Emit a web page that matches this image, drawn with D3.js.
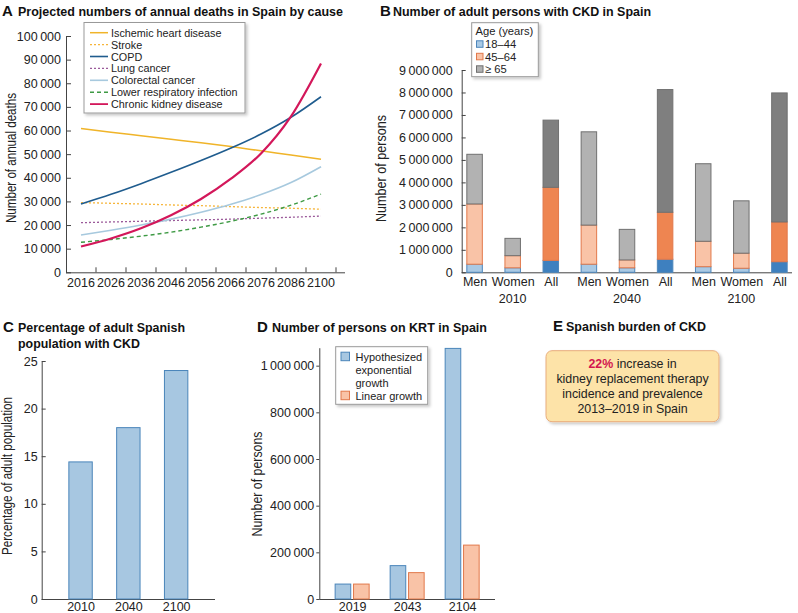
<!DOCTYPE html>
<html><head><meta charset="utf-8">
<script src="https://cdn.jsdelivr.net/npm/d3@7"></script>
<style>
body{margin:0;background:#fff}
svg{font-family:"Liberation Sans",Arial,Helvetica,sans-serif}
.axis path,.axis line{stroke:#444;stroke-width:1}
.axis text{fill:#222;font-size:12.5px}
</style>
</head><body>
<svg id="c" width="798" height="613"></svg>
<script>
// ---------- Panel A data ----------
const aYears = ["2016","2026","2036","2046","2056","2066","2076","2086","2100"];
const ischemic   = [60900,59300,57800,56300,54800,53200,51400,49600,47800];
const stroke     = [29500,29200,28900,28500,28200,27800,27400,27100,26700];
const copd       = [28900,33000,37500,42300,47300,52600,58500,65600,74300];
const lungCancer = [21000,21300,21600,21900,22200,22500,22900,23300,23800];
const colorectal = [15800,17800,20000,22500,25400,28800,32900,38000,44700];
const lowerResp  = [12700,13900,15300,17000,19100,21600,24600,28400,33100];
const ckdDeaths  = [10900,14300,18600,24100,31000,39600,50300,66000,88400];
const aSeriesNames = ["Ischemic heart disease","Stroke","COPD","Lung cancer","Colorectal cancer","Lower respiratory infection","Chronic kidney disease"];
const aTicks = [0,10000,20000,30000,40000,50000,60000,70000,80000,90000,100000];

// ---------- Panel B data ----------
const bGroups = ["Men","Women","All","Men","Women","All","Men","Women","All"];
const bYearOf = ["2010","2010","2010","2040","2040","2040","2100","2100","2100"];
const bYears = ["2010","2040","2100"];
const bAgeNames = ["18–44","45–64","≥ 65"];
const age18_44 = [360000,200000,530000,360000,200000,580000,250000,180000,470000];
const age45_64 = [2680000,540000,3250000,1740000,350000,2090000,1130000,670000,1770000];
const age65up  = [2210000,770000,2990000,4150000,1360000,5460000,3450000,2330000,5740000];
const bTicks = [0,1000000,2000000,3000000,4000000,5000000,6000000,7000000,8000000,9000000];

// ---------- Panel C data ----------
const cYears = ["2010","2040","2100"];
const cPct = [14.4,18.0,24.0];
const cTicks = [0,5,10,15,20,25];

// ---------- Panel D data ----------
const dYears = ["2019","2043","2104"];
const dExponential = [64000,143000,1074000];
const dLinear = [64000,113000,231000];
const dTicks = [0,200000,400000,600000,800000,1000000];
const dSeriesNames = ["Hypothesized\nexponential\ngrowth","Linear growth"];

const svg = d3.select("#c");
const fmt = v => d3.format(",")(v).replace(/,/g, "\u2009");

const defs = svg.append("defs");
const f = defs.append("filter").attr("id","sh").attr("x","-10%").attr("y","-10%").attr("width","130%").attr("height","140%");
f.append("feDropShadow").attr("dx",2).attr("dy",2).attr("stdDeviation",1.5).attr("flood-color","#000").attr("flood-opacity",0.22);

function title(lx, tx, y, letter, lines, lens){
  const g = svg.append("g");
  g.append("text").attr("x",lx).attr("y",y).attr("font-weight","bold").attr("font-size",15).attr("fill","#111").text(letter);
  lines.forEach((t,i)=>g.append("text").attr("x",tx).attr("y",y+i*16.5).attr("font-weight","bold").attr("font-size",13)
    .attr("textLength",lens[i]).attr("lengthAdjust","spacingAndGlyphs").attr("fill","#111").text(t));
}
function yTitle(x, y, t, len){
  svg.append("text").attr("transform",`translate(${x},${y}) rotate(-90)`).attr("text-anchor","middle")
    .attr("font-size",14).attr("textLength",len).attr("lengthAdjust","spacingAndGlyphs").attr("fill","#222").text(t);
}

// =================== PANEL A ===================
title(2,18,16,"A",["Projected numbers of annual deaths in Spain by cause"],[325]);
const yA = d3.scaleLinear().domain([0,100000]).range([272.3,36]);
const xA = d3.scaleBand().domain(aYears).range([66,336]);
svg.append("g").attr("class","axis").attr("transform","translate(66,0)")
  .call(d3.axisLeft(yA).tickValues(aTicks).tickFormat(fmt).tickSize(-5).tickSizeOuter(0).tickPadding(5));
const gxA = svg.append("g").attr("class","axis").attr("transform","translate(0,272.3)")
  .call(d3.axisBottom(xA).tickSize(0).tickPadding(6).tickSizeOuter(0));
gxA.selectAll(".tick text").attr("font-size",12.3);
gxA.select(".domain").attr("d","M66,0.5H345");
gxA.selectAll(".tickmark").data(aYears).join("line").attr("class","tickmark")
  .attr("x1",d=>xA(d)+xA.bandwidth()).attr("x2",d=>xA(d)+xA.bandwidth())
  .attr("y1",0).attr("y2",-5).attr("stroke","#444");
yTitle(16,158,"Number of annual deaths",130);

const aData = [ischemic,stroke,copd,lungCancer,colorectal,lowerResp,ckdDeaths];
const aStyle = [
  {c:"#f0b429",w:1.5,d:null},
  {c:"#f6b53a",w:1.3,d:"2,2"},
  {c:"#1f5c8e",w:1.6,d:null},
  {c:"#9b5a9a",w:1.3,d:"2,2"},
  {c:"#a7c9de",w:1.6,d:null},
  {c:"#3e9a44",w:1.4,d:"4,3"},
  {c:"#d3175a",w:2.2,d:null}
];
const lineA = d3.line().x((d,i)=>xA(aYears[i])+xA.bandwidth()/2).y(d=>yA(d)).curve(d3.curveMonotoneX);
aData.forEach((s,k)=>{
  svg.append("path").attr("d",lineA(s)).attr("fill","none").attr("stroke",aStyle[k].c)
    .attr("stroke-width",aStyle[k].w).attr("stroke-dasharray",aStyle[k].d);
});
const lgA = svg.append("g");
lgA.append("rect").attr("x",84).attr("y",22.5).attr("width",161).attr("height",90.5).attr("fill","#fff").attr("stroke","#999").attr("filter","url(#sh)");
aSeriesNames.forEach((n,i)=>{
  const y = 32.7 + i*11.9;
  lgA.append("line").attr("x1",90).attr("x2",108).attr("y1",y).attr("y2",y).attr("stroke",aStyle[i].c)
    .attr("stroke-width",Math.min(aStyle[i].w,1.8)).attr("stroke-dasharray",aStyle[i].d);
  lgA.append("text").attr("x",111).attr("y",y+4).attr("font-size",10.8).attr("fill","#222").text(n);
});

// =================== PANEL B ===================
title(380,393,16,"B",["Number of adult persons with CKD in Spain"],[258]);
const yB = d3.scaleLinear().domain([0,9000000]).range([272.3,70]);
const bIds = bGroups.map((g,i)=>g+" "+bYearOf[i]);
const xB = d3.scalePoint().domain(bIds).range([462,792]).padding(0.33);
svg.append("g").attr("class","axis").attr("transform","translate(461.7,0)")
  .call(d3.axisLeft(yB).tickValues(bTicks).tickFormat(fmt).tickSize(-4).tickSizeOuter(0).tickPadding(9));
const gxB = svg.append("g").attr("class","axis").attr("transform","translate(0,272.3)")
  .call(d3.axisBottom(xB).tickSize(0).tickPadding(5).tickSizeOuter(0).tickFormat((d,i)=>bGroups[i]));
gxB.select(".domain").attr("d","M461.7,0.5H792");
bYears.forEach(y=>{
  svg.append("text").attr("x",xB("Women "+y)).attr("y",303).attr("text-anchor","middle").attr("font-size",12.5).attr("fill","#222").text(y);
});
yTitle(386,168.5,"Number of persons",107);

const bRows = bIds.map((id,i)=>({id, group:bGroups[i], a:age18_44[i], b:age45_64[i], c:age65up[i]}));
const stackB = d3.stack().keys(["a","b","c"])(bRows);
const bLight = {a:"#a9c9e4", b:"#f9c3a7", c:"#b2b2b2"};
const bDark  = {a:"#3e80bf", b:"#ee8551", c:"#7f7f7f"};
const bStroke= {a:"#4d86bb", b:"#e2794b", c:"#707070"};
const bw = 15.5;
stackB.forEach(layer=>{
  svg.append("g").selectAll("rect").data(layer).join("rect")
    .attr("x",d=>xB(d.data.id)-bw/2).attr("width",bw)
    .attr("y",d=>yB(d[1])).attr("height",d=>yB(d[0])-yB(d[1]))
    .attr("fill",d=>d.data.group==="All"?bDark[layer.key]:bLight[layer.key])
    .attr("stroke",bStroke[layer.key]).attr("stroke-width",1);
});
const lgB = svg.append("g");
lgB.append("rect").attr("x",471.7).attr("y",22.7).attr("width",66.6).attr("height",54).attr("fill","#fff").attr("stroke","#999").attr("filter","url(#sh)");
lgB.append("text").attr("x",475.5).attr("y",34.5).attr("font-size",11.2).attr("fill","#222").text("Age (years)");
["a","b","c"].forEach((k,i)=>{
  const y = 48.3 + i*12.5;
  lgB.append("rect").attr("x",476.5).attr("y",y-7.5).attr("width",6.5).attr("height",6.5)
    .attr("fill",bLight[k]).attr("stroke",bStroke[k]);
  lgB.append("text").attr("x",485).attr("y",y).attr("font-size",11.2).attr("fill","#222").text(bAgeNames[i]);
});

// =================== PANEL C ===================
title(3,18,331.5,"C",["Percentage of adult Spanish","population with CKD"],[167,122]);
const yC = d3.scaleLinear().domain([0,25]).range([599,361]);
const xC = d3.scalePoint().domain(cYears).range([41.7,215]).padding(0.813);
const gyC = svg.append("g").attr("class","axis").attr("transform","translate(41.7,0)")
  .call(d3.axisLeft(yC).tickValues(cTicks).tickSize(-4).tickSizeOuter(0).tickPadding(4));
gyC.selectAll(".tick text").attr("font-size",13.5);
const gxC = svg.append("g").attr("class","axis").attr("transform","translate(0,599)")
  .call(d3.axisBottom(xC).tickSize(0).tickPadding(3).tickSizeOuter(0));
gxC.select(".domain").attr("d","M41.7,0.5H215");
yTitle(12,476,"Percentage of adult population",158);
svg.append("g").selectAll("rect").data(cPct).join("rect")
  .attr("x",(d,i)=>xC(cYears[i])-11.7).attr("width",23.4)
  .attr("y",d=>yC(d)).attr("height",d=>yC(0)-yC(d))
  .attr("fill","#a7c7e1").attr("stroke","#4a85ba").attr("stroke-width",1);

// =================== PANEL D ===================
title(257,272,331.5,"D",["Number of persons on KRT in Spain"],[215]);
const yD = d3.scaleLinear().domain([0,1077000]).range([599,347.7]);
const xD = d3.scalePoint().domain(dYears).range([319.3,495]).padding(0.597);
const xDs = d3.scaleBand().domain(["exp","lin"]).range([-17,17]).paddingInner(0.152);
const gyD = svg.append("g").attr("class","axis").attr("transform","translate(319.3,0)")
  .call(d3.axisLeft(yD).tickValues(dTicks).tickFormat(fmt).tickSize(3).tickSizeOuter(0).tickPadding(2));
gyD.selectAll(".tick text").attr("font-size",12);
const gxD = svg.append("g").attr("class","axis").attr("transform","translate(0,599)")
  .call(d3.axisBottom(xD).tickSize(0).tickPadding(3).tickSizeOuter(0));
gxD.select(".domain").attr("d","M319.3,0.5H495");
yTitle(262,484,"Number of persons",105);
const dColors = {exp:{f:"#a7c7e1",s:"#4a85ba"}, lin:{f:"#f9c3a7",s:"#e2794b"}};
[["exp",dExponential],["lin",dLinear]].forEach(([k,arr])=>{
  svg.append("g").selectAll("rect").data(arr).join("rect")
    .attr("x",(d,i)=>xD(dYears[i])+xDs(k)).attr("width",xDs.bandwidth())
    .attr("y",d=>yD(d)).attr("height",d=>yD(0)-yD(d))
    .attr("fill",dColors[k].f).attr("stroke",dColors[k].s).attr("stroke-width",1);
});
const lgD = svg.append("g");
lgD.append("rect").attr("x",335.7).attr("y",346.7).attr("width",92).attr("height",57.6).attr("fill","#fff").attr("stroke","#999").attr("filter","url(#sh)");
[["exp",356.7],["lin",395.7]].forEach(([k,y],i)=>{
  lgD.append("rect").attr("x",341).attr("y",y-4.5).attr("width",8.5).attr("height",8.5)
    .attr("fill",dColors[k].f).attr("stroke",dColors[k].s);
  dSeriesNames[i].split("\n").forEach((t,j)=>{
    lgD.append("text").attr("x",355.5).attr("y",y+4+j*13).attr("font-size",11).attr("fill","#222").text(t);
  });
});

// =================== PANEL E ===================
title(553,566,331,"E",["Spanish burden of CKD"],[140]);
svg.append("rect").attr("x",546).attr("y",350.7).attr("width",173).attr("height",71).attr("rx",6)
  .attr("fill","#fde3a8").attr("stroke","#e9ad7c").attr("stroke-width",1).attr("filter","url(#sh)");
const eLines = ["increase in","kidney replacement therapy","incidence and prevalence","2013–2019 in Spain"];
const t0 = svg.append("text").attr("x",632.5).attr("y",368).attr("text-anchor","middle").attr("font-size",12.4).attr("fill","#222");
t0.append("tspan").attr("font-weight","bold").attr("fill","#d3174f").text("22%");
t0.append("tspan").text(" "+eLines[0]);
eLines.slice(1).forEach((t,i)=>{
  svg.append("text").attr("x",632.5).attr("y",383+i*15).attr("text-anchor","middle").attr("font-size",12.4).attr("fill","#222").text(t);
});
</script>
</body></html>
